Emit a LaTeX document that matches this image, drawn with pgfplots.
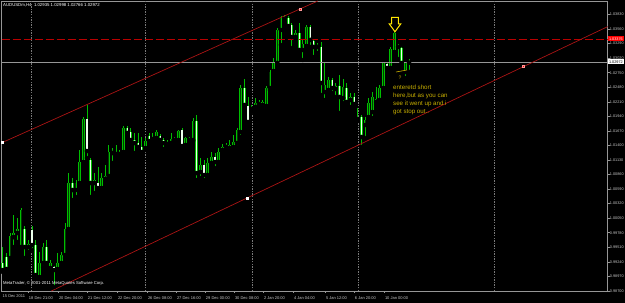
\documentclass[border=0pt]{standalone}
\usepackage{pgfplots}
\pgfplotsset{compat=1.18}
\usepackage{pgfplotstable}
\usepackage{fontspec}
\setmainfont{Liberation Sans}
\definecolor{wickc}{RGB}{0,190,0}
\definecolor{bodyg}{RGB}{0,190,0}
\definecolor{bulli}{RGB}{0,60,0}
\definecolor{bearw}{RGB}{235,255,235}
\definecolor{chan}{RGB}{170,20,20}
\definecolor{hline}{RGB}{185,0,0}
\definecolor{gridc}{RGB}{120,120,120}
\definecolor{axc}{RGB}{150,150,150}
\definecolor{labc}{RGB}{200,200,200}
\definecolor{note}{RGB}{200,175,0}
\definecolor{arrowy}{RGB}{255,230,0}

\pgfplotstableread{
i O H L C
0 0.99219 0.99516 0.99052 0.99089
1 0.99330 0.99404 0.99070 0.99107
2 0.99312 0.99776 0.99274 0.99720
3 0.99701 1.00110 0.99516 0.99776
4 0.99776 1.00054 0.99608 0.99850
5 0.99516 1.00240 0.99460 1.00202
6 0.99850 0.99905 0.99312 0.99516
7 0.99516 0.99646 0.99423 0.99571
8 0.99831 0.99905 0.99460 0.99553
9 0.99553 0.99646 0.98940 0.98996
10 0.98959 0.99423 0.98903 0.99219
11 0.99219 0.99590 0.99145 0.99516
12 0.99516 0.99646 0.99182 0.99219
13 0.99126 0.99274 0.99089 0.99219
14 0.99145 0.99163 0.98773 0.99089
15 0.99107 0.99404 0.99052 0.99219
16 0.99219 0.99423 0.99182 0.99367
17 0.99367 0.99961 0.99312 0.99850
18 0.99850 1.00889 0.99794 1.00704
19 1.00704 1.00796 1.00388 1.00574
20 1.00574 1.00759 1.00444 1.00704
21 1.00704 1.01316 1.00666 1.01093
22 1.01093 1.01928 1.01075 1.01891
23 1.01891 1.02151 1.01168 1.01297
24 1.01130 1.01168 1.00444 1.00704
25 1.00704 1.00889 1.00518 1.00759
26 1.00704 1.01000 1.00574 1.00611
27 1.00611 1.00889 1.00574 1.00796
28 1.00778 1.01038 1.00722 1.00833
29 1.00833 1.01409 1.00815 1.01279
30 1.01297 1.01353 1.01075 1.01260
31 1.01242 1.01409 1.01186 1.01279
32 1.01279 1.01316 1.01205 1.01242
33 1.01279 1.01761 1.01260 1.01724
34 1.01724 1.01761 1.01594 1.01632
35 1.01650 1.01724 1.01446 1.01502
36 1.01502 1.01632 1.01260 1.01446
37 1.01446 1.01632 1.01316 1.01372
38 1.01372 1.01557 1.01223 1.01279
39 1.01353 1.01539 1.01316 1.01483
40 1.01576 1.01632 1.01464 1.01483
41 1.01520 1.01632 1.01446 1.01539
42 1.01539 1.01687 1.01502 1.01650
43 1.01576 1.01613 1.01464 1.01502
44 1.01502 1.01539 1.01335 1.01446
45 1.01427 1.01502 1.01390 1.01464
46 1.01446 1.01632 1.01409 1.01520
47 1.01520 1.01557 1.01483 1.01502
48 1.01502 1.01687 1.01483 1.01669
49 1.01687 1.01724 1.01372 1.01390
50 1.01409 1.01557 1.01390 1.01539
51 1.01539 1.01557 1.01483 1.01502
52 1.01502 1.01910 1.01483 1.01854
53 1.01854 1.01966 1.00759 1.00889
54 1.00908 1.01168 1.00796 1.01038
55 1.01038 1.01130 1.00759 1.00852
56 1.00852 1.01168 1.00815 1.01075
57 1.01075 1.01279 1.01019 1.01186
58 1.01186 1.01260 1.00982 1.01093
59 1.01093 1.01353 1.01056 1.01279
60 1.01316 1.01427 1.01260 1.01372
61 1.01372 1.01446 1.01335 1.01409
62 1.01353 1.01502 1.01279 1.01409
63 1.01372 1.01594 1.01316 1.01464
64 1.01446 1.01724 1.01372 1.01687
65 1.01650 1.02522 1.01557 1.02467
66 1.02467 1.02634 1.02114 1.02151
67 1.02133 1.02300 1.01817 1.01836
68 1.02077 1.02151 1.02021 1.02114
69 1.02114 1.02281 1.02058 1.02188
70 1.02188 1.02244 1.02114 1.02170
71 1.02151 1.02244 1.02114 1.02207
72 1.02133 1.02504 1.02096 1.02467
73 1.02467 1.02801 1.02430 1.02764
74 1.02782 1.03024 1.02727 1.02931
75 1.02931 1.03580 1.02912 1.03543
76 1.03543 1.03803 1.03265 1.03766
77 1.03747 1.03822 1.03710 1.03784
78 1.03766 1.03803 1.03580 1.03617
79 1.03636 1.03673 1.03209 1.03413
80 1.03413 1.03543 1.03358 1.03488
81 1.03488 1.03673 1.03135 1.03172
82 1.03172 1.03358 1.02986 1.03283
83 1.03246 1.03636 1.03209 1.03599
84 1.03599 1.03636 1.03228 1.03358
85 1.03339 1.03376 1.03042 1.03228
86 1.03228 1.03302 1.03116 1.03265
87 1.03228 1.03320 1.02337 1.02560
88 1.02392 1.02949 1.02244 1.02522
89 1.02430 1.02671 1.02392 1.02615
90 1.02615 1.02652 1.02374 1.02467
91 1.02448 1.02560 1.02300 1.02504
92 1.02504 1.02708 1.02003 1.02300
93 1.02281 1.02634 1.02188 1.02485
94 1.02467 1.02560 1.02133 1.02207
95 1.02244 1.02374 1.02114 1.02300
96 1.02300 1.02374 1.02114 1.02170
97 1.01891 1.02096 1.01854 1.01928
98 1.01928 1.01966 1.01372 1.01557
99 1.01780 1.01928 1.01539 1.01873
100 1.01928 1.02281 1.01910 1.02188
101 1.02021 1.02392 1.01910 1.02300
102 1.02207 1.02485 1.02170 1.02263
103 1.02244 1.02522 1.02225 1.02467
104 1.02467 1.02949 1.02430 1.02931
105 1.02912 1.02949 1.02801 1.02838
106 1.02838 1.03228 1.02801 1.03191
107 1.03135 1.03506 1.03116 1.03488
108 1.03246 1.03283 1.03005 1.03228
109 1.03209 1.03228 1.02894 1.02931
110 1.02764 1.02949 1.02652 1.02931
111 1.02935 1.02998 1.02766 1.02972
}\candles

\begin{document}
\begin{tikzpicture}
\fill[black] (0,0) rectangle (625pt,303pt);
\useasboundingbox (0,0) rectangle (625pt,303pt);
\begin{axis}[
  at={(1.5pt,12pt)}, anchor=south west,
  width=606.2pt, height=290pt, scale only axis,
  xmin=-0.34, xmax=165.29, ymin=0.98700, ymax=1.04081,
  clip=false,
  axis line style={axc, line width=0.8pt},
  tick align=outside, major tick length=2pt,
  tick style={axc, line width=0.6pt},
  xtick pos=bottom, ytick pos=right, yticklabel pos=right,
  xtick={6.90,15.10,23.02,31.22,39.42,47.34,55.26,63.19,71.11,79.31,88.05,95.97,104.17},
  xticklabels={18 Dec 21:00,20 Dec 04:00,21 Dec 12:00,22 Dec 20:00,26 Dec 08:00,27 Dec 16:00,29 Dec 00:00,30 Dec 08:00,2 Jan 20:00,4 Jan 04:00,5 Jan 12:00,6 Jan 20:00,10 Jan 00:00},
  xticklabel style={font=\fontsize{4}{4.4}\selectfont, text=labc, anchor=west, inner sep=0pt, xshift=0.8pt, yshift=-5pt},
  ytick={0.98700,0.98970,0.99240,0.99510,0.99780,1.00050,1.00320,1.00590,1.00860,1.01130,1.01400,1.01670,1.01940,1.02210,1.02480,1.02750,1.03020,1.03290,1.03560,1.03830},
  yticklabels={0.98700,0.98970,0.99240,0.99510,0.99780,1.00050,1.00320,1.00590,1.00860,1.01130,1.01400,1.01670,1.01940,1.02210,1.02480,1.02750,1.03020,1.03290,1.03560,1.03830},
  yticklabel style={font=\fontsize{3.8}{4.2}\selectfont, text=labc, anchor=west, inner sep=0pt, xshift=0pt},
  extra x ticks={7.72,38.87,68.1,97.06,134.2},
  extra x tick labels={},
  extra x tick style={grid=major, major grid style={gridc, line width=0.8pt, dash pattern=on 1.3pt off 1.3pt}, major tick length=0pt},
]
% wicks
\addplot[only marks, mark=none, forget plot,
  error bars/.cd, y dir=plus, y explicit, error mark=none,
  error bar style={line width=0.8pt, wickc}]
  table[x=i, y=L, y error expr=\thisrow{H}-\thisrow{L}] {\candles};
% bull bodies
\addplot[only marks, mark=none, forget plot,
  restrict expr to domain={\thisrow{C}-\thisrow{O}}{0:1},
  error bars/.cd, y dir=plus, y explicit, error mark=none,
  error bar style={line width=2.6pt, bodyg}]
  table[x=i, y=O, y error expr=\thisrow{C}-\thisrow{O}] {\candles};
\addplot[only marks, mark=none, forget plot,
  restrict expr to domain={\thisrow{C}-\thisrow{O}}{0:1},
  error bars/.cd, y dir=plus, y explicit, error mark=none,
  error bar style={line width=0.9pt, bulli}]
  table[x=i, y=O, y error expr=\thisrow{C}-\thisrow{O}] {\candles};
% bear bodies
\addplot[only marks, mark=none, forget plot,
  restrict expr to domain={\thisrow{O}-\thisrow{C}}{0.000001:1},
  error bars/.cd, y dir=plus, y explicit, error mark=none,
  error bar style={line width=2.6pt, bodyg}]
  table[x=i, y=C, y error expr=\thisrow{O}-\thisrow{C}] {\candles};
\addplot[only marks, mark=none, forget plot,
  restrict expr to domain={\thisrow{O}-\thisrow{C}}{0.000001:1},
  error bars/.cd, y dir=plus, y explicit, error mark=none,
  error bar style={line width=1.2pt, bearw}]
  table[x=i, y=C, y error expr=\thisrow{O}-\thisrow{C}] {\candles};
% horizontal lines
\addplot[hline, line width=0.8pt, dash pattern=on 8pt off 3pt] coordinates {(-0.34,1.03376) (165.29,1.03376)};
\addplot[axc, line width=0.7pt] coordinates {(-0.34,1.02950) (165.29,1.02950)};
% channel lines
\addplot[chan, line width=0.7pt] coordinates {(-0.34,1.01448) (86.08,1.04081)};
\addplot[chan, line width=0.7pt] coordinates {(13.27,0.98700) (165.29,1.03606)};
\addplot[only marks, mark=square*, mark size=1pt, mark options={fill=white, draw=white}] coordinates {(-0.2,1.01452) (66.74,1.00425)};
\addplot[only marks, mark=square*, mark size=1pt, mark options={fill=red, draw=white!60!red}] coordinates {(81.22,1.03933) (142.23,1.02862)};
% price labels
\node[anchor=west, fill=red, text=white, inner sep=0.4pt, minimum width=16pt, minimum height=5pt, font=\fontsize{3.8}{4.2}\selectfont] at (axis cs:165.29,1.03376) {1.03376};
\node[anchor=west, fill=white, text=black, inner sep=0.4pt, minimum width=16pt, minimum height=5pt, font=\fontsize{3.8}{4.2}\selectfont] at (axis cs:165.29,1.02950) {1.02972};
\end{axis}
% texts
\node[anchor=west, text=white, inner sep=0pt, font=\fontsize{4.3}{5}\selectfont] at (3pt,298pt) {AUDUSDm,H4\ \ 1.02935 1.02998 1.02766 1.02972};
\node[anchor=west, text=white, inner sep=0pt, font=\fontsize{4.2}{5}\selectfont] at (3pt,19.5pt) {MetaTrader, © 2001-2011 MetaQuotes Software Corp.};
\node[anchor=west, text=labc, inner sep=0pt, font=\fontsize{4}{4.4}\selectfont] at (2.5pt,6.5pt) {15 Dec 2011};
% annotation
\draw[arrowy, line width=1pt, fill=black] (391.7pt,285.7pt) -- (398.3pt,285.7pt) -- (398.3pt,279pt) -- (400.7pt,279pt) -- (395pt,271.3pt) -- (389.3pt,279pt) -- (391.7pt,279pt) -- cycle;
\draw[note, line width=0.6pt] (396pt,231pt) -- (407pt,233pt);
\node[text=note, inner sep=0pt, font=\fontsize{5}{5}\selectfont] at (400pt,225pt) {?};
\node[anchor=north west, align=left, text=note, inner sep=0pt, font=\fontsize{6.2}{8}\selectfont] at (393pt,218.5pt) {enteretd short\\here,but as you can\\see it went up and i\\got stop out..};
\end{tikzpicture}
\end{document}
